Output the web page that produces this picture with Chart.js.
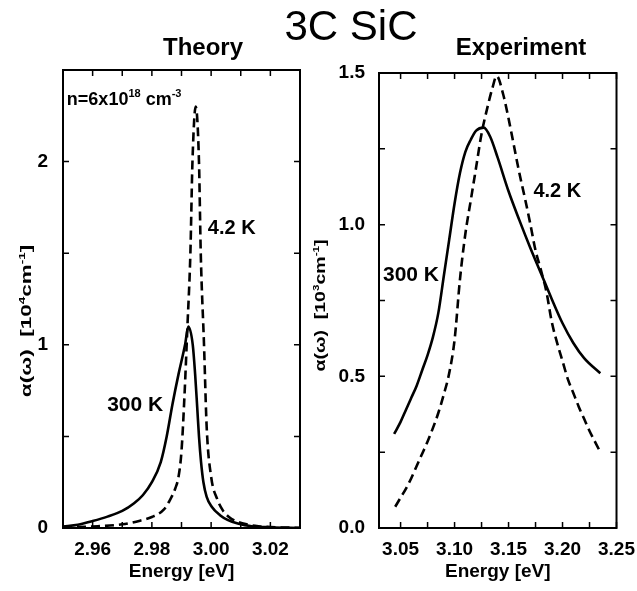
<!DOCTYPE html>
<html>
<head>
<meta charset="utf-8">
<script src="https://cdn.jsdelivr.net/npm/chart.js@4.4.0/dist/chart.umd.min.js"></script>
<style>
  body { margin: 0; background: #fff; }
  #wrap { position: relative; width: 637px; height: 591px; overflow: hidden; font-family: "Liberation Sans", Arial, sans-serif; }
  canvas { position: absolute; top: 0; }
  #theoryChart { left: 0; }
  #expChart { left: 304px; }
  .ttl { position: absolute; color: #000; white-space: nowrap; transform: translateX(-50%); line-height: 1; }
</style>
</head>
<body>
<div id="wrap">
  <canvas id="theoryChart" width="310" height="591"></canvas>
  <canvas id="expChart" width="341" height="591"></canvas>
  <div class="ttl" style="left:351px; top:5px; font-size:42px;">3C SiC</div>
  <div class="ttl" style="left:203px; top:35px; font-size:24px; font-weight:bold;">Theory</div>
  <div class="ttl" style="left:521px; top:35px; font-size:24px; font-weight:bold;">Experiment</div>
</div>
<script>
// Theory panel, 4.2 K (dashed)
const theoryEnergy4K = [2.950, 2.960, 2.970, 2.976, 2.980, 2.984, 2.986, 2.988, 2.989, 2.990, 2.991, 2.992, 2.993, 2.9937, 2.9948, 2.9959, 2.9965, 2.9976, 2.9985, 3.000, 3.002, 3.004, 3.006, 3.008, 3.012, 3.016, 3.020, 3.030];
const theoryAlpha4K = [0.003, 0.008, 0.02, 0.04, 0.06, 0.10, 0.15, 0.22, 0.28, 0.42, 0.72, 1.10, 1.50, 2.0, 2.30, 2.0, 1.5, 1.0, 0.55, 0.28, 0.16, 0.095, 0.06, 0.04, 0.02, 0.01, 0.005, 0.001];
// Theory panel, 300 K (solid)
const theoryEnergy300K = [2.950, 2.955, 2.960, 2.965, 2.970, 2.974, 2.977, 2.980, 2.983, 2.985, 2.987, 2.989, 2.9912, 2.9923, 2.9938, 2.9946, 2.9953, 2.9959, 2.9966, 2.9974, 2.9985, 3.0002, 3.003, 3.0057, 3.009, 3.0137, 3.020, 3.030];
const theoryAlpha300K = [0.008, 0.018, 0.038, 0.062, 0.093, 0.135, 0.18, 0.25, 0.36, 0.5, 0.68, 0.84, 1.0, 1.10, 1.0, 0.84, 0.66, 0.5, 0.36, 0.25, 0.17, 0.116, 0.07, 0.043, 0.025, 0.01, 0.004, 0.0];

// Experiment panel, 4.2 K (dashed)
const expEnergy4K = [3.045, 3.050, 3.055, 3.060, 3.065, 3.070, 3.075, 3.080, 3.085, 3.090, 3.095, 3.100, 3.105, 3.110, 3.115, 3.120, 3.125, 3.130, 3.135, 3.139, 3.145, 3.150, 3.155, 3.160, 3.165, 3.170, 3.175, 3.180, 3.185, 3.190, 3.195, 3.200, 3.205, 3.210, 3.215, 3.220, 3.225, 3.230, 3.235];
const expAlpha4K = [0.07, 0.10, 0.13, 0.165, 0.205, 0.245, 0.285, 0.33, 0.38, 0.44, 0.51, 0.62, 0.82, 0.97, 1.08, 1.19, 1.30, 1.38, 1.45, 1.49, 1.43, 1.35, 1.26, 1.17, 1.09, 1.005, 0.915, 0.85, 0.78, 0.68, 0.61, 0.55, 0.49, 0.445, 0.40, 0.36, 0.32, 0.285, 0.25];
// Experiment panel, 300 K (solid)
const expEnergy300K = [3.044, 3.050, 3.055, 3.060, 3.065, 3.070, 3.075, 3.080, 3.085, 3.090, 3.095, 3.100, 3.105, 3.110, 3.115, 3.120, 3.127, 3.133, 3.140, 3.150, 3.160, 3.170, 3.180, 3.190, 3.200, 3.210, 3.220, 3.235];
const expAlpha300K = [0.31, 0.35, 0.39, 0.43, 0.47, 0.52, 0.57, 0.63, 0.71, 0.83, 0.95, 1.07, 1.17, 1.24, 1.28, 1.31, 1.32, 1.29, 1.22, 1.11, 1.015, 0.925, 0.84, 0.755, 0.675, 0.61, 0.56, 0.51];

const FONT = '"Liberation Sans", Arial, sans-serif';

function toPoints(xs, ys) {
    return xs.map((x, i) => ({ x: x, y: ys[i] }));
}

// draws text pieces with superscripts, e.g. 10^4
function drawRich(ctx, segs, x, y, size, align) {
    const supSize = Math.round(size * 0.62);
    let total = 0;
    const widths = segs.map(s => {
        ctx.font = 'bold ' + (s.sup ? supSize : size) + 'px ' + FONT;
        const w = ctx.measureText(s.t).width;
        total += w;
        return w;
    });
    let cx = align === 'center' ? x - total / 2 : x;
    ctx.textBaseline = 'alphabetic';
    ctx.textAlign = 'left';
    segs.forEach((s, i) => {
        ctx.font = 'bold ' + (s.sup ? supSize : size) + 'px ' + FONT;
        ctx.fillText(s.t, cx, s.sup ? y - size * 0.42 : y);
        cx += widths[i];
    });
}

// frame, inward ticks on all four sides, rotated y title and curve labels
const framePlugin = {
    id: 'frame',
    afterDraw(chart, args, opts) {
        const ctx = chart.ctx;
        const a = chart.chartArea;
        const xs = chart.scales.x, ys = chart.scales.y;
        const len = 6;
        ctx.save();
        ctx.strokeStyle = '#000';
        ctx.lineWidth = 2;
        ctx.strokeRect(a.left, a.top, a.right - a.left, a.bottom - a.top);
        ctx.lineWidth = 1.5;
        ctx.beginPath();
        xs.ticks.forEach(t => {
            const px = xs.getPixelForValue(t.value);
            ctx.moveTo(px, a.bottom); ctx.lineTo(px, a.bottom - len);
            ctx.moveTo(px, a.top); ctx.lineTo(px, a.top + len);
        });
        ys.ticks.forEach(t => {
            const py = ys.getPixelForValue(t.value);
            ctx.moveTo(a.left, py); ctx.lineTo(a.left + len, py);
            ctx.moveTo(a.right, py); ctx.lineTo(a.right - len, py);
        });
        ctx.stroke();

        ctx.fillStyle = '#000';
        const yt = opts.yTitle;
        ctx.save();
        ctx.translate(a.left + yt.dx, (a.top + a.bottom) / 2 + yt.dy);
        ctx.rotate(-Math.PI / 2);
        ctx.scale(yt.stretch, 1);
        drawRich(ctx, yt.segs, 0, 5, yt.size, 'center');
        ctx.restore();

        opts.labels.forEach(l => {
            drawRich(ctx, l.segs, xs.getPixelForValue(l.x), ys.getPixelForValue(l.y), l.size, 'left');
        });
        ctx.restore();
    }
};

function makeChart(canvasId, cfg) {
    const lineCommon = { borderColor: '#000', backgroundColor: '#000', borderWidth: 2.6, pointRadius: 0, cubicInterpolationMode: 'monotone', fill: false };
    return new Chart(document.getElementById(canvasId), {
        type: 'line',
        data: {
            datasets: [
                Object.assign({ label: '300 K', data: cfg.solid }, lineCommon),
                Object.assign({ label: '4.2 K', data: cfg.dashed, borderDash: [9, 5] }, lineCommon)
            ]
        },
        options: {
            responsive: false,
            animation: false,
            events: [],
            layout: { padding: cfg.padding },
            plugins: {
                legend: { display: false },
                tooltip: { enabled: false },
                frame: { yTitle: cfg.yTitle, labels: cfg.labels }
            },
            scales: {
                x: {
                    type: 'linear',
                    min: cfg.xMin, max: cfg.xMax,
                    afterFit: s => { s.height = 63; },
                    grid: { display: false, drawTicks: false },
                    border: { display: false },
                    ticks: {
                        stepSize: cfg.xStep, autoSkip: false, includeBounds: false, maxRotation: 0, padding: 10,
                        color: '#000', font: { family: FONT, size: 19, weight: 'bold' },
                        callback: cfg.xLabel
                    },
                    title: {
                        display: true, text: 'Energy [eV]', color: '#000',
                        font: { family: FONT, size: 19, weight: 'bold' },
                        padding: { top: 0, bottom: 8 }
                    }
                },
                y: {
                    type: 'linear',
                    min: 0, max: cfg.yMax,
                    afterFit: s => { s.width = cfg.yWidth; },
                    grid: { display: false, drawTicks: false },
                    border: { display: false },
                    ticks: {
                        stepSize: cfg.yStep, autoSkip: false, padding: cfg.yPad,
                        color: '#000', font: { family: FONT, size: 19, weight: 'bold' },
                        callback: cfg.yLabel
                    }
                }
            }
        },
        plugins: [framePlugin]
    });
}

makeChart('theoryChart', {
    solid: toPoints(theoryEnergy300K, theoryAlpha300K),
    dashed: toPoints(theoryEnergy4K, theoryAlpha4K),
    padding: { top: 70, right: 4, left: 0, bottom: 0 },
    xMin: 2.95, xMax: 3.03, xStep: 0.01,
    xLabel: v => Math.round(v * 100) % 2 === 0 ? v.toFixed(2) : '',
    yMax: 2.5, yStep: 0.5, yWidth: 63, yPad: 15,
    yLabel: v => Math.abs(v - Math.round(v)) < 1e-6 ? String(Math.round(v)) : '',
    yTitle: { dx: -37, dy: 22, stretch: 1.5, size: 15,
        segs: [{ t: 'α(ω)  [10' }, { t: '4', sup: true }, { t: 'cm' }, { t: '-1', sup: true }, { t: ']' }] },
    labels: [
        { x: 2.9513, y: 2.31, size: 18, segs: [{ t: 'n=6x10' }, { t: '18', sup: true }, { t: ' cm' }, { t: '-3', sup: true }] },
        { x: 2.9989, y: 1.603, size: 20, segs: [{ t: '4.2 K' }] },
        { x: 2.9649, y: 0.641, size: 21, segs: [{ t: '300 K' }] }
    ]
});

makeChart('expChart', {
    solid: toPoints(expEnergy300K, expAlpha300K),
    dashed: toPoints(expEnergy4K, expAlpha4K),
    padding: { top: 73, right: 21, left: 0, bottom: 0 },
    xMin: 3.03, xMax: 3.25, xStep: 0.025,
    xLabel: v => Math.round(v * 1000) % 50 === 0 ? v.toFixed(2) : '',
    yMax: 1.5, yStep: 0.25, yWidth: 75, yPad: 14,
    yLabel: v => Math.round(v * 100) % 50 === 0 ? v.toFixed(1) : '',
    yTitle: { dx: -59, dy: 5, stretch: 1.3, size: 15,
        segs: [{ t: 'α(ω)  [10' }, { t: '3', sup: true }, { t: 'cm' }, { t: '-1', sup: true }, { t: ']' }] },
    labels: [
        { x: 3.173, y: 1.092, size: 20, segs: [{ t: '4.2 K' }] },
        { x: 3.0337, y: 0.814, size: 21, segs: [{ t: '300 K' }] }
    ]
});
</script>
</body>
</html>
